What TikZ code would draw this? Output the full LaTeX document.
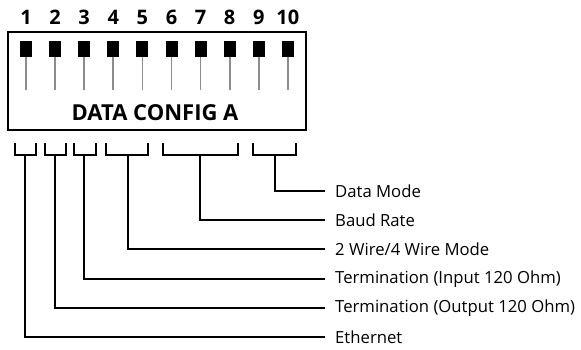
\documentclass[tikz,border=0pt]{standalone}
\usepackage{fontspec}
\setmainfont{Open Sans}
\usetikzlibrary{positioning}

\begin{document}
\begin{tikzpicture}[x=1pt, y=-1pt,
    switch/.style={fill=black, minimum width=12pt, minimum height=16pt, inner sep=0pt},
    stem/.style={draw=black!45, line width=1.7pt},
    bracket/.style={draw=black, line width=2pt},
    label/.style={anchor=west, inner sep=0pt, xshift=10pt, font=\fontsize{16.7}{18}\selectfont}]
    \useasboundingbox (0, 0) rectangle (581, 349);

    \draw[line width=2pt] (8, 32) rectangle (306, 130);

    \foreach \i in {1,...,10} {
        \node[font=\fontsize{20}{22}\selectfont\bfseries] (n\i) at ({26+(\i-1)*29.1}, 17) {\i};
        \node[switch] (s\i) at ({26+(\i-1)*29.1}, 48.7) {};
        \draw[stem] (s\i.south) -- ++(0, 33);
    }

    \node[font=\fontsize{22}{24}\selectfont\bfseries] (title) at (155, 113) {DATA CONFIG A};

    \node[label] (mode) at (325, 191) {Data Mode};
    \node[label] (baud) at (325, 220) {Baud Rate};
    \node[label] (wire) at (325, 249) {2 Wire/4 Wire Mode};
    \node[label] (tin) at (325, 279) {Termination (Input 120 Ohm)};
    \node[label] (tout) at (325, 308) {Termination (Output 120 Ohm)};
    \node[label] (eth) at (325, 337) {Ethernet};

    \foreach \l/\r/\m/\n in {15/36/25/eth, 45/66/55/tout, 74/96/84/tin,
                             106/148/128/wire, 163/238/200/baud, 253/296/275/mode} {
        \draw[bracket] (\l, 143) |- (\r, 155) -- (\r, 143);
        \coordinate (b-\n) at (\m, 155);
        \draw[bracket] (b-\n) |- ([xshift=-10pt]\n.west);
    }
\end{tikzpicture}
\end{document}
